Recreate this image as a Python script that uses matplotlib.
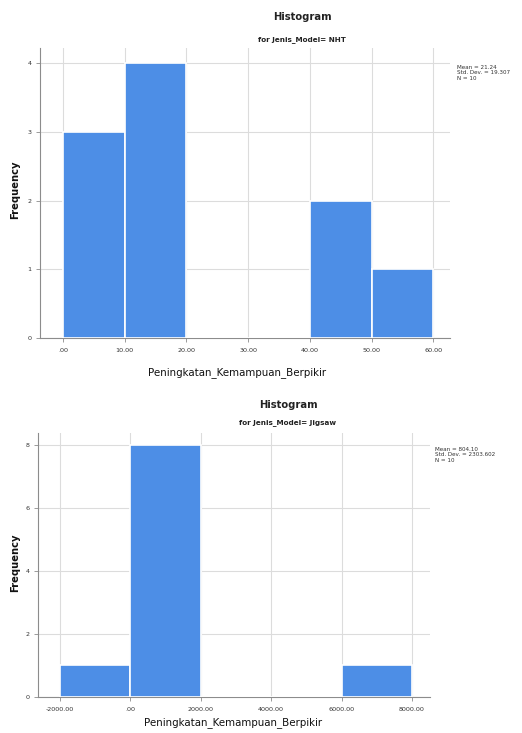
import matplotlib
matplotlib.use("Agg")
import matplotlib.pyplot as plt

# Top histogram (Jenis_Model = NHT)
nht_edges = [0, 10, 20, 30, 40, 50, 60]
nht_counts = [3, 4, 0, 0, 2, 1]
nht_xticks = [0, 10, 20, 30, 40, 50, 60]
nht_xticklabels = [".00", "10.00", "20.00", "30.00", "40.00", "50.00", "60.00"]
nht_yticks = [0, 1, 2, 3, 4]
nht_stats = "Mean = 21.24\nStd. Dev. = 19.307\nN = 10"

# Bottom histogram (Jenis_Model = Jigsaw)
jig_edges = [-2000, 0, 2000, 4000, 6000, 8000]
jig_counts = [1, 8, 0, 0, 1]
jig_xticks = [-2000, 0, 2000, 4000, 6000, 8000]
jig_xticklabels = ["-2000.00", ".00", "2000.00", "4000.00", "6000.00", "8000.00"]
jig_yticks = [0, 2, 4, 6, 8]
jig_stats = "Mean = 804.10\nStd. Dev. = 2303.602\nN = 10"

xlabel = "Peningkatan_Kemampuan_Berpikir"
ylabel = "Frequency"

W, H = 522, 733
fig = plt.figure(figsize=(W / 100, H / 100), dpi=100)
fig.patch.set_facecolor("white")

bar_color = "#4d8ee6"
grid_color = "#dcdcdc"
axis_color = "#8c8c8c"


def fx(px):
    return px / W


def fy(py):
    return 1 - py / H


def draw(ax_rect, edges, counts, xlim, ylim, xticks, xticklabels, yticks,
         title_y, sub_y, title_x, sub, stats_xy, xlabel_y, xlabel_x, ylabel_y):
    l, t, r, b = ax_rect
    ax = fig.add_axes([fx(l), fy(b), fx(r) - fx(l), fy(t) - fy(b)])
    lefts = edges[:-1]
    widths = [edges[i + 1] - edges[i] for i in range(len(edges) - 1)]
    ax.bar(lefts, counts, width=widths, align="edge", color=bar_color,
           edgecolor="white", linewidth=1.2, zorder=3)
    ax.set_xlim(*xlim)
    ax.set_ylim(*ylim)
    ax.set_xticks(xticks)
    ax.set_xticklabels(xticklabels, fontsize=4.6, color="#333333")
    ax.set_yticks(yticks)
    ax.set_yticklabels([str(v) for v in yticks], fontsize=4.6, color="#333333")
    ax.grid(True, color=grid_color, linewidth=0.8, zorder=0)
    for s in ["top", "right"]:
        ax.spines[s].set_visible(False)
    for s in ["left", "bottom"]:
        ax.spines[s].set_color(axis_color)
        ax.spines[s].set_linewidth(0.8)
    ax.tick_params(axis="x", length=3, width=0.6, color=axis_color, pad=4)
    ax.tick_params(axis="y", length=3, width=0.6, color=axis_color, pad=3)
    fig.text(fx(title_x), fy(title_y), "Histogram", ha="center", va="center",
             fontsize=7.2, fontweight="bold", color="#222222")
    fig.text(fx(title_x), fy(sub_y), sub, ha="center", va="center",
             fontsize=5.2, fontweight="bold", color="#222222")
    fig.text(fx(stats_xy[0]), fy(stats_xy[1]), stats_xy[2], ha="left", va="top",
             fontsize=4.1, color="#333333", linespacing=1.1)
    fig.text(fx(xlabel_x), fy(xlabel_y), xlabel, ha="center", va="center",
             fontsize=7.4, color="#111111")
    fig.text(fx(15), fy(ylabel_y), ylabel, ha="center", va="center",
             rotation=90, fontsize=7.2, fontweight="bold", color="#111111")
    return ax


draw((40, 48, 450, 338), nht_edges, nht_counts, (-3.7, 62.7), (0, 4.22),
     nht_xticks, nht_xticklabels, nht_yticks,
     17, 40, 302, "for Jenis_Model= NHT", (457, 65, nht_stats), 373, 237, 190)

draw((38, 433, 430, 697), jig_edges, jig_counts, (-2625, 8510), (0, 8.38),
     jig_xticks, jig_xticklabels, jig_yticks,
     405, 423, 288, "for Jenis_Model= Jigsaw", (435, 447, jig_stats), 723, 233, 563)

fig.savefig("out.png", dpi=100, facecolor="white")
